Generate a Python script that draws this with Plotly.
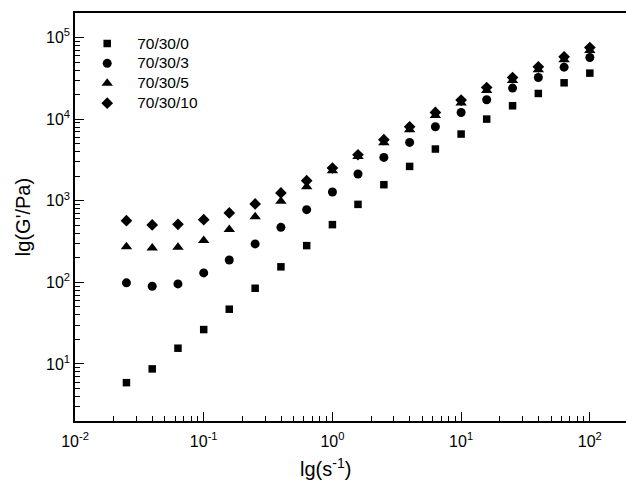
import plotly.graph_objects as go

# shear rate / frequency (s^-1)
x_vals = [0.0251, 0.0398, 0.0631, 0.1, 0.158, 0.251, 0.398, 0.631, 1.0, 1.58,
          2.51, 3.98, 6.31, 10.0, 15.8, 25.1, 39.8, 63.1, 100.0]

g_0 = [5.9, 8.7, 15.6, 26.4, 46.9, 84.7, 155, 282, 510, 903,
       1574, 2637, 4305, 6570, 10020, 14590, 20650, 27900, 36660]
g_3 = [98.6, 89.6, 95.7, 130.7, 188, 296, 472, 778, 1282, 2128,
       3398, 5188, 8075, 12080, 17270, 24030, 32400, 43420, 56900]
g_5 = [274, 264, 269, 325, 443, 638, 984, 1488, 2335, 3494,
       5140, 7413, 11090, 15740, 22440, 29770, 40270, 53370, 69300]
g_10 = [570, 506, 514, 587, 709, 914, 1246, 1762, 2520, 3666,
        5598, 8075, 12080, 17130, 24430, 32400, 43780, 58060, 75450]

series_names = ["70/30/0", "70/30/3", "70/30/5", "70/30/10"]
series_data = [g_0, g_3, g_5, g_10]
symbols = ["square", "circle", "triangle-up", "diamond"]
sizes = [7.5, 9, 10, 9]

x_tickvals = [0.01, 0.1, 1, 10, 100]
x_ticktext = ["10<sup>-2</sup>", "10<sup>-1</sup>", "10<sup>0</sup>", "10<sup>1</sup>", "10<sup>2</sup>"]
y_tickvals = [10, 100, 1000, 10000, 100000]
y_ticktext = ["10<sup>1</sup>", "10<sup>2</sup>", "10<sup>3</sup>", "10<sup>4</sup>", "10<sup>5</sup>"]

x_minor = [m * 10 ** e for e in range(-2, 3) for m in range(2, 10)]
y_minor = [m * 10 ** e for e in range(0, 6) for m in range(2, 10)]

fig = go.Figure()
for name, data, sym, sz in zip(series_names, series_data, symbols, sizes):
    fig.add_trace(go.Scatter(
        x=x_vals, y=data, mode="markers",
        name="<span style='font-size:15.5px'>" + name + "</span>",
        marker=dict(symbol=sym, size=sz, color="black", line=dict(width=0)),
    ))

FONT = "Liberation Sans, Arial, sans-serif"
fig.update_layout(
    width=626, height=489,
    margin=dict(l=75, r=0, t=13, b=68),
    plot_bgcolor="white", paper_bgcolor="white",
    font=dict(family=FONT, color="black", size=16),
    showlegend=True,
    legend=dict(
        x=0.004, y=0.962, xanchor="left", yanchor="top",
        bgcolor="rgba(0,0,0,0)", borderwidth=0,
        font=dict(size=13, family=FONT, color="black"),
        itemwidth=50,
    ),
    annotations=[dict(
        text="lg(s<sup>-1</sup>)", xref="paper", yref="paper",
        x=0.454, y=-0.115, xanchor="center", yanchor="middle",
        showarrow=False, font=dict(size=20, family=FONT, color="black"),
    )],
)
fig.update_xaxes(
    type="log", range=[-2, 2.281],
    showline=True, linecolor="black", linewidth=1.5, mirror=True,
    showgrid=False, zeroline=False,
    ticks="inside", ticklen=9, tickwidth=1, tickcolor="black",
    tickvals=x_tickvals, ticktext=x_ticktext,
    tickfont=dict(size=16), ticklabelstandoff=5,
    minor=dict(ticks="inside", ticklen=5, tickwidth=1, tickcolor="black",
               tickvals=x_minor, showgrid=False),
)
fig.update_yaxes(
    type="log", range=[0.30103, 5.30103],
    showline=True, linecolor="black", linewidth=1.5, mirror=False,
    showgrid=False, zeroline=False,
    ticks="inside", ticklen=9, tickwidth=1, tickcolor="black",
    tickvals=y_tickvals, ticktext=y_ticktext,
    tickfont=dict(size=16),
    minor=dict(ticks="inside", ticklen=5, tickwidth=1, tickcolor="black",
               tickvals=y_minor, showgrid=False),
    title=dict(text="lg(G'/Pa)", font=dict(size=20), standoff=10),
)

fig.write_html("out.html")
